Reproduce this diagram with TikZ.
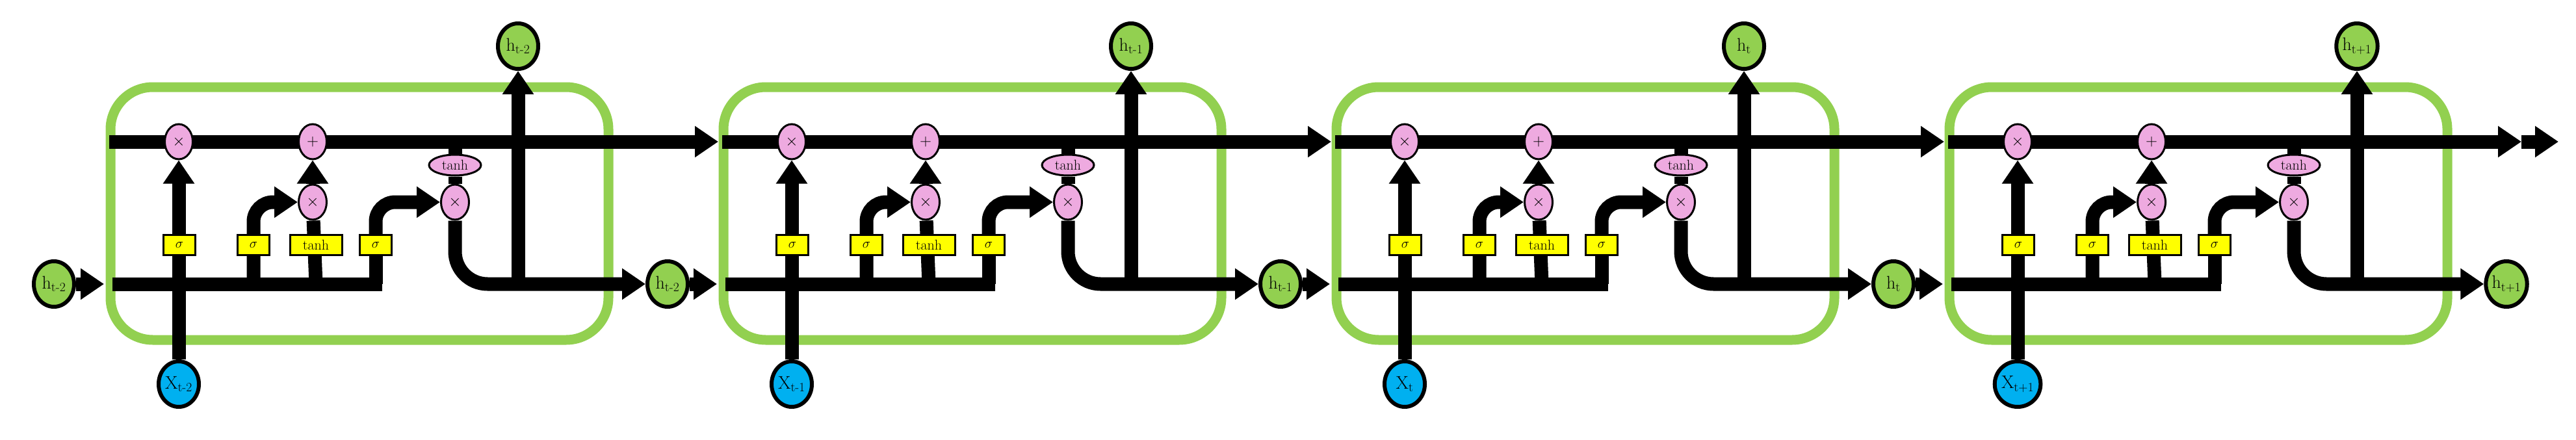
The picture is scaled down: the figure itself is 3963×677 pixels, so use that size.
\documentclass[tikz,border=0pt]{standalone}
\usetikzlibrary{arrows.meta,shapes.geometric}
\definecolor{cg}{RGB}{146,208,80}
\definecolor{cp}{RGB}{238,170,224}
\definecolor{cb}{RGB}{0,176,240}
\definecolor{cy}{RGB}{255,255,0}
\pgfdeclarelayer{boxl}\pgfdeclarelayer{lines}
\pgfsetlayers{boxl,lines,main}
\begin{document}
\begin{tikzpicture}[x=1pt,y=-1pt,
  wire/.style={line width=21pt},
  arr/.style={wire,-{Triangle[width=46pt,length=36pt]}},
  op/.style={ellipse,draw,line width=3pt,fill=cp,minimum width=43pt,minimum height=54pt,inner sep=0pt,font=\fontsize{30}{30}\selectfont},
  tn/.style={ellipse,draw,line width=3pt,fill=cp,minimum width=80pt,minimum height=32pt,inner sep=0pt,font=\fontsize{22}{22}\selectfont},
  gate/.style={rectangle,draw,line width=3pt,fill=cy,minimum height=31pt,inner sep=0pt,font=\fontsize{22}{22}\selectfont},
  hn/.style={ellipse,draw,line width=6pt,fill=cg,minimum width=62pt,minimum height=70pt,inner sep=0pt,font=\fontsize{28}{28}\selectfont},
  xn/.style={hn,fill=cb},
  cell/.style={draw=cg,line width=15pt,rounded corners=65pt}]
\useasboundingbox (0,0) rectangle (3963,677);
\node[hn] (hin) at (83,437) {h\textsubscript{t-2}};
\foreach \i/\lab in {0/{t-2},1/{t-1},2/{t},3/{t+1}}{
  \pgfmathsetmacro{\d}{943*\i}
  \begin{scope}[xshift=\d]
    \node[op] (fx\i) at (275,218) {$\times$};
    \node[op] (pl\i) at (481,218) {$+$};
    \node[op] (ix\i) at (481,311) {$\times$};
    \node[tn] (th\i) at (700,254) {tanh};
    \node[op] (ox\i) at (700,311) {$\times$};
    \node[gate,minimum width=49pt] (sa\i) at (276,377) {$\sigma$};
    \node[gate,minimum width=49pt] (sb\i) at (390,377) {$\sigma$};
    \node[gate,minimum width=80pt] (gt\i) at (486,377) {tanh};
    \node[gate,minimum width=49pt] (sc\i) at (578,377) {$\sigma$};
    \node[hn] (ht\i) at (797,71) {h\textsubscript{\lab}};
    \node[hn] (ho\i) at (1027,437) {h\textsubscript{\lab}};
    \node[xn] (xx\i) at (275,591) {X\textsubscript{\lab}};
    \coordinate (cs\i) at (168,218);
    \coordinate (ce\i) at (\ifnum\i=3 1050\else 1105\fi,218);
    \coordinate (bs\i) at (173,437);
    \coordinate (be\i) at (588,437);
    \coordinate (bi\i) at (160,437);
    \coordinate (hu\i) at (797,437);
    \begin{pgfonlayer}{boxl}
      \draw[cell] (170,134) rectangle (936,523);
    \end{pgfonlayer}
  \end{scope}
  \begin{pgfonlayer}{lines}
    \draw[arr] (cs\i) -- (ce\i);
    \draw[arr] (xx\i) -- (fx\i);
    \draw[wire] (bs\i) -- (be\i);
    \draw[wire] (be\i) ++(-10,0) -- (sc\i);
    \draw[arr,rounded corners=30pt] (sb\i |- bs\i) |- (ix\i);
    \draw[arr,rounded corners=30pt] (sc\i) |- (ox\i);
    \draw[wire] (gt\i |- bs\i) -- (ix\i);
    \draw[arr] (ix\i) -- (pl\i);
    \draw[wire] (pl\i -| th\i) -- (th\i) -- (ox\i);
    \draw[arr,rounded corners=50pt] (ox\i) |- (ho\i);
    \draw[arr] (hu\i) -- (ht\i);
  \end{pgfonlayer}
}
\begin{pgfonlayer}{lines}
  \draw[arr] (hin) -- (bi0);
  \draw[arr] (ho0) -- (bi1);
  \draw[arr] (ho1) -- (bi2);
  \draw[arr] (ho2) -- (bi3);
  \draw[arr] (ce3) -- (3936,218);
\end{pgfonlayer}
\end{tikzpicture}
\end{document}
